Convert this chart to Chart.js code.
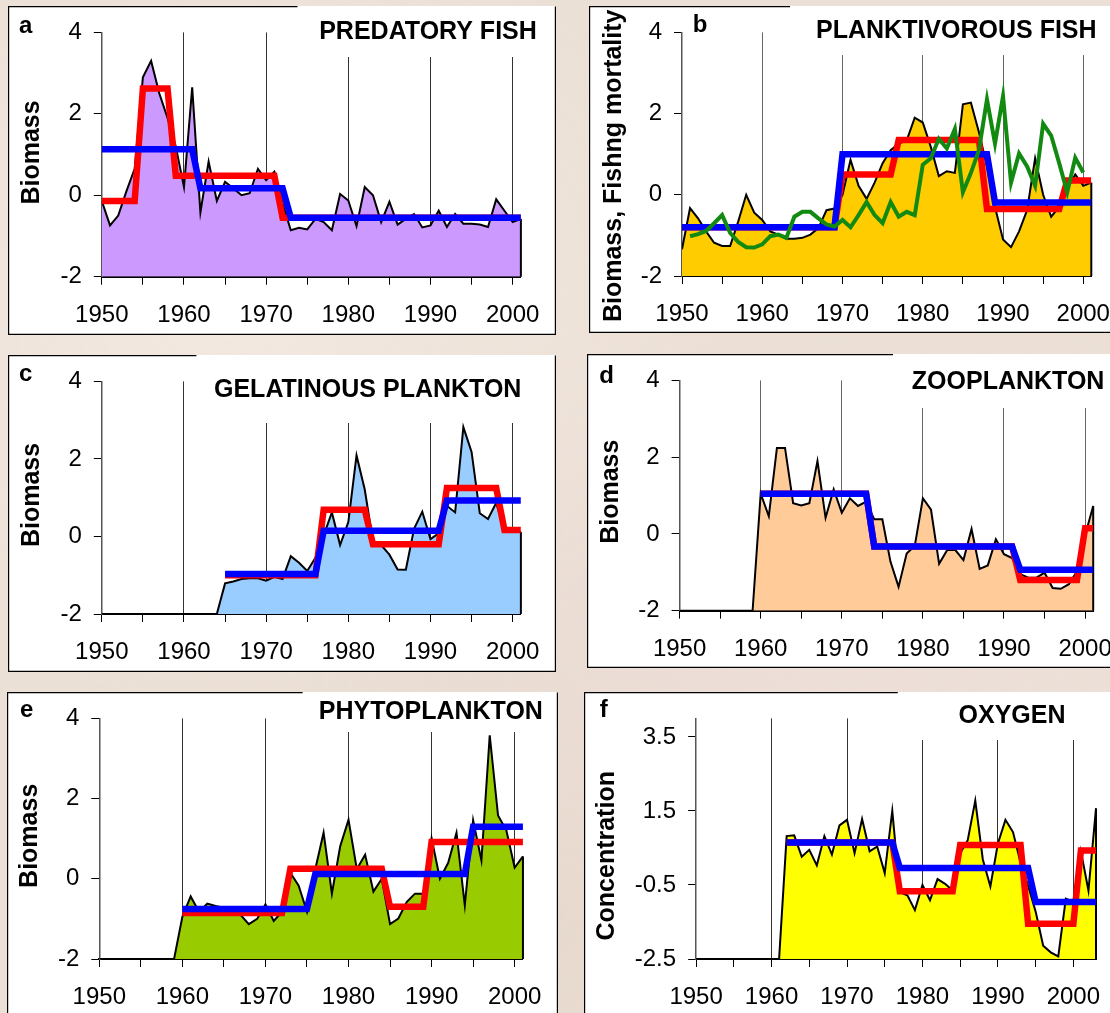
<!DOCTYPE html>
<html><head><meta charset="utf-8">
<script src="https://cdn.jsdelivr.net/npm/chart.js@4/dist/chart.umd.min.js"></script>
<style>
html,body{margin:0;padding:0;width:1110px;height:1013px;overflow:hidden;}
body{background:#ebe0d5;
background-image:
 radial-gradient(ellipse at 20% 30%, rgba(245,235,228,0.8), rgba(0,0,0,0) 40%),
 radial-gradient(ellipse at 75% 60%, rgba(238,222,218,0.7), rgba(0,0,0,0) 45%),
 radial-gradient(ellipse at 50% 90%, rgba(228,212,200,0.6), rgba(0,0,0,0) 40%);}
canvas{position:absolute;background:#fff;}
</style></head><body>
<canvas id="pa"></canvas>
<canvas id="pb"></canvas>
<canvas id="pc"></canvas>
<canvas id="pd"></canvas>
<canvas id="pe"></canvas>
<canvas id="pf"></canvas>
<script>
// ---------------- DATA ----------------
const START_YEAR = 1950;
const xTickValues = [1950,1955,1960,1965,1970,1975,1980,1985,1990,1995,2000];
const xTickLabels = ['1950','1960','1970','1980','1990','2000'];
const gridYears = [1960,1970,1980,1990,2000];
const yTicksBiomass = [-2,0,2,4];
const yTicksOxygen = [-2.5,-0.5,1.5,3.5];

// a: predatory fish (1950-2001)
const predatoryBiomass = [-0.14,-0.74,-0.5,0.1,0.65,2.9,3.3,2.5,1.9,1.2,0.2,2.65,-0.42,0.83,-0.14,0.33,0.17,0.0,0.05,0.65,0.37,0.58,-0.2,-0.86,-0.8,-0.84,-0.58,-0.66,-0.86,0.03,-0.13,-0.76,0.2,0.0,-0.66,-0.16,-0.72,-0.58,-0.46,-0.79,-0.74,-0.38,-0.78,-0.46,-0.7,-0.7,-0.72,-0.78,-0.1,-0.38,-0.66,-0.58];
const predatoryRed = [-0.14,-0.14,-0.14,-0.14,-0.14,2.62,2.62,2.62,2.62,0.48,0.48,0.48,0.48,0.48,0.48,0.48,0.48,0.48,0.48,0.48,0.48,0.48,-0.55,-0.55,-0.55,-0.55,-0.55,-0.55,-0.55,-0.55,-0.55,-0.55,-0.55,-0.55,-0.55,-0.55,-0.55,-0.55,-0.55,-0.55,-0.55,-0.55,-0.55,-0.55,-0.55,-0.55,-0.55,-0.55,-0.55,-0.55,-0.55,-0.55];
const predatoryBlue = [1.13,1.13,1.13,1.13,1.13,1.13,1.13,1.13,1.13,1.13,1.13,1.13,0.17,0.17,0.17,0.17,0.17,0.17,0.17,0.17,0.17,0.17,0.17,-0.55,-0.55,-0.55,-0.55,-0.55,-0.55,-0.55,-0.55,-0.55,-0.55,-0.55,-0.55,-0.55,-0.55,-0.55,-0.55,-0.55,-0.55,-0.55,-0.55,-0.55,-0.55,-0.55,-0.55,-0.55,-0.55,-0.55,-0.55,-0.55];

// b: planktivorous fish (1950-2001)
const planktivBiomass = [-1.34,-0.33,-0.58,-0.9,-1.18,-1.26,-1.26,-0.66,0.0,-0.44,-0.62,-0.9,-0.98,-1.08,-1.08,-1.06,-0.98,-0.82,-0.38,-0.34,0.0,0.86,0.22,-0.1,0.3,0.78,1.1,1.26,1.34,1.9,1.78,1.18,0.46,0.58,0.54,2.23,2.27,1.54,0.7,-0.3,-1.1,-1.29,-0.9,-0.38,0.9,0.0,-0.54,-0.3,0.14,0.5,0.22,0.3];
const planktivFishing = [null,-1.02,-0.97,-0.89,-0.7,-0.5,-0.94,-1.16,-1.29,-1.3,-1.22,-1.02,-0.98,-1.06,-0.54,-0.42,-0.42,-0.58,-0.73,-0.78,-0.62,-0.8,-0.5,-0.18,-0.5,-0.7,-0.18,-0.54,-0.42,-0.5,0.74,0.9,1.38,1.14,1.62,0.06,0.54,1.1,2.35,1.26,2.43,0.3,1.02,0.7,0.22,1.75,1.46,0.78,0.06,0.91,0.55,null];
const planktivRed = [-0.8,-0.8,-0.8,-0.8,-0.8,-0.8,-0.8,-0.8,-0.8,-0.8,-0.8,-0.8,-0.8,-0.8,-0.8,-0.8,-0.8,-0.8,-0.8,-0.8,0.5,0.5,0.5,0.5,0.5,0.5,0.5,1.35,1.35,1.35,1.35,1.35,1.35,1.35,1.35,1.35,1.35,1.35,-0.35,-0.35,-0.35,-0.35,-0.35,-0.35,-0.35,-0.35,-0.35,-0.35,0.35,0.35,0.35,0.35];
const planktivBlue = [-0.8,-0.8,-0.8,-0.8,-0.8,-0.8,-0.8,-0.8,-0.8,-0.8,-0.8,-0.8,-0.8,-0.8,-0.8,-0.8,-0.8,-0.8,-0.8,-0.8,1.0,1.0,1.0,1.0,1.0,1.0,1.0,1.0,1.0,1.0,1.0,1.0,1.0,1.0,1.0,1.0,1.0,1.0,1.0,-0.19,-0.19,-0.19,-0.19,-0.19,-0.19,-0.19,-0.19,-0.19,-0.19,-0.19,-0.19,-0.19];

// c: gelatinous plankton (1950-2001)
const gelatinousBiomass = [-2,-2,-2,-2,-2,-2,-2,-2,-2,-2,-2,-2,-2,-2,-2,-1.21,-1.16,-1.1,-1.08,-1.08,-1.14,-1.04,-1.1,-0.51,-0.68,-0.89,-0.55,0.03,0.62,-0.22,0.37,2.09,1.21,-0.13,-0.22,-0.47,-0.85,-0.86,0.2,0.64,-0.07,0.08,0.79,0.62,2.82,2.18,0.6,0.45,0.87,0.12,0.12,0.12];
const gelatinousRed = [null,null,null,null,null,null,null,null,null,null,null,null,null,null,null,-1.0,-1.0,-1.0,-1.0,-1.0,-1.0,-1.0,-1.0,-1.0,-1.0,-1.0,-1.0,0.69,0.69,0.69,0.69,0.69,0.69,-0.2,-0.2,-0.2,-0.2,-0.2,-0.2,-0.2,-0.2,-0.2,1.25,1.25,1.25,1.25,1.25,1.25,1.25,0.17,0.17,0.17];
const gelatinousBlue = [null,null,null,null,null,null,null,null,null,null,null,null,null,null,null,-0.97,-0.97,-0.97,-0.97,-0.97,-0.97,-0.97,-0.97,-0.97,-0.97,-0.97,-0.97,0.15,0.15,0.15,0.15,0.15,0.15,0.15,0.15,0.15,0.15,0.15,0.15,0.15,0.15,0.15,0.93,0.93,0.93,0.93,0.93,0.93,0.93,0.93,0.93,0.93];

// d: zooplankton (1950-2001)
const zooBiomass = [-2,-2,-2,-2,-2,-2,-2,-2,-2,-2,1.05,0.46,2.24,2.24,0.8,0.74,0.8,1.9,0.42,1.16,0.55,0.93,0.73,0.84,0.38,0.38,-0.72,-1.38,-0.51,-0.31,0.93,0.63,-0.78,-0.42,-0.42,-0.68,0.13,-0.91,-0.82,-0.14,-0.53,-0.63,-1.05,-1.14,-1.14,-1.01,-1.41,-1.43,-1.31,-0.97,-0.04,0.73];
const zooRed = [null,null,null,null,null,null,null,null,null,null,1.05,1.05,1.05,1.05,1.05,1.05,1.05,1.05,1.05,1.05,1.05,1.05,1.05,1.05,-0.33,-0.33,-0.33,-0.33,-0.33,-0.33,-0.33,-0.33,-0.33,-0.33,-0.33,-0.33,-0.33,-0.33,-0.33,-0.33,-0.33,-0.33,-1.2,-1.2,-1.2,-1.2,-1.2,-1.2,-1.2,-1.2,0.15,0.15];
const zooBlue = [null,null,null,null,null,null,null,null,null,null,1.05,1.05,1.05,1.05,1.05,1.05,1.05,1.05,1.05,1.05,1.05,1.05,1.05,1.05,-0.33,-0.33,-0.33,-0.33,-0.33,-0.33,-0.33,-0.33,-0.33,-0.33,-0.33,-0.33,-0.33,-0.33,-0.33,-0.33,-0.33,-0.33,-0.93,-0.93,-0.93,-0.93,-0.93,-0.93,-0.93,-0.93,-0.93,-0.93];

// e: phytoplankton (1950-2001)
const phytoBiomass = [-2,-2,-2,-2,-2,-2,-2,-2,-2,-2,-0.95,-0.44,-0.82,-0.62,-0.68,-0.72,-0.82,-0.9,-1.13,-1.0,-0.64,-1.05,-0.82,0.15,-0.17,-0.82,0.24,1.15,-0.37,0.81,1.47,0.24,0.6,-0.32,0.0,-1.13,-0.99,-0.58,-0.37,-0.37,1.01,0.0,0.4,1.15,-0.66,1.46,0.46,3.58,1.58,1.21,0.28,0.56];
const phytoRed = [null,null,null,null,null,null,null,null,null,null,-0.85,-0.85,-0.85,-0.85,-0.85,-0.85,-0.85,-0.85,-0.85,-0.85,-0.85,-0.85,-0.85,0.25,0.25,0.25,0.25,0.25,0.25,0.25,0.25,0.25,0.25,0.25,0.25,-0.7,-0.7,-0.7,-0.7,-0.7,0.92,0.92,0.92,0.92,0.92,0.92,0.92,0.92,0.92,0.92,0.92,0.92];
const phytoBlue = [null,null,null,null,null,null,null,null,null,null,-0.75,-0.75,-0.75,-0.75,-0.75,-0.75,-0.75,-0.75,-0.75,-0.75,-0.75,-0.75,-0.75,-0.75,-0.75,-0.75,0.12,0.12,0.12,0.12,0.12,0.12,0.12,0.12,0.12,0.12,0.12,0.12,0.12,0.12,0.12,0.12,0.12,0.12,0.12,1.3,1.3,1.3,1.3,1.3,1.3,1.3];

// f: oxygen concentration (1950-2003)
const oxygenConc = [-2.5,-2.5,-2.5,-2.5,-2.5,-2.5,-2.5,-2.5,-2.5,-2.5,-2.5,-2.5,0.82,0.84,0.26,0.45,0.03,0.82,0.32,1.11,1.26,0.36,1.28,0.41,0.54,-0.18,1.5,-0.7,-0.78,-1.18,-0.5,-0.91,-0.34,-0.47,-0.65,0.36,0.71,1.78,0.19,-0.54,0.62,1.26,0.93,0.1,-0.52,-1.22,-2.14,-2.32,-2.43,-0.87,-0.96,0.41,-0.65,1.57];
const oxygenRed = [null,null,null,null,null,null,null,null,null,null,null,null,0.65,0.65,0.65,0.65,0.65,0.65,0.65,0.65,0.65,0.65,0.65,0.65,0.65,0.65,0.65,-0.67,-0.67,-0.67,-0.67,-0.67,-0.67,-0.67,-0.67,0.58,0.58,0.58,0.58,0.58,0.58,0.58,0.58,0.58,-1.55,-1.55,-1.55,-1.55,-1.55,-1.55,-1.55,0.43,0.43,0.43];
const oxygenBlue = [null,null,null,null,null,null,null,null,null,null,null,null,0.65,0.65,0.65,0.65,0.65,0.65,0.65,0.65,0.65,0.65,0.65,0.65,0.65,0.65,0.65,-0.04,-0.04,-0.04,-0.04,-0.04,-0.04,-0.04,-0.04,-0.04,-0.04,-0.04,-0.04,-0.04,-0.04,-0.04,-0.04,-0.04,-0.04,-0.96,-0.96,-0.96,-0.96,-0.96,-0.96,-0.96,-0.96,-0.96];

// ---------------- RENDERING ----------------
const FONT = '"Liberation Sans", Arial, Helvetica, sans-serif';
Chart.defaults.font.family = FONT;
Chart.defaults.color = '#000';

const toXY = arr => arr.map((v, i) => ({x: START_YEAR + i, y: v}));

const panelDecor = {
  id: 'panelDecor',
  beforeDatasetsDraw(chart, args, o) {
    const ctx = chart.ctx, xs = chart.scales.x;
    ctx.save();
    ctx.fillStyle = '#fff';
    const cx = xs.getPixelForValue(o.coverFrom);
    ctx.fillRect(cx, 1, chart.width - cx, o.coverBottom - 1);
    ctx.fillStyle = '#000';
    ctx.textBaseline = 'alphabetic';
    ctx.font = 'bold 25px ' + FONT;
    ctx.textAlign = o.titleAlign;
    ctx.fillText(o.title, o.titleX, o.titleY);
    ctx.font = 'bold 24px ' + FONT;
    ctx.textAlign = 'center';
    ctx.fillText(o.letter, o.letterX, o.letterY);
    ctx.translate(o.axisX, o.axisY);
    ctx.rotate(-Math.PI / 2);
    ctx.font = 'bold 25px ' + FONT;
    ctx.textBaseline = 'middle';
    ctx.fillText(o.axisTitle, 0, 0);
    ctx.restore();
  },
  afterDatasetDraw(chart, args, o) {
    if (args.index !== 0) return;
    const pts = chart.getDatasetMeta(0).data;
    const last = pts[pts.length - 1];
    const ctx = chart.ctx;
    ctx.save();
    ctx.strokeStyle = '#000'; ctx.lineWidth = 2;
    ctx.beginPath(); ctx.moveTo(last.x, last.y); ctx.lineTo(last.x, chart.chartArea.bottom); ctx.stroke();
    ctx.restore();
  },
  afterDraw(chart, args, o) {
    const ctx = chart.ctx, w = chart.width, h = chart.height;
    ctx.save();
    ctx.strokeStyle = '#000'; ctx.lineWidth = 1.2;
    ctx.beginPath();
    ctx.moveTo(o.borderTopUntil, 0.6); ctx.lineTo(0.6, 0.6); ctx.lineTo(0.6, h - 0.6);
    ctx.lineTo(w - 0.6, h - 0.6); ctx.lineTo(w - 0.6, 0.6);
    ctx.stroke();
    ctx.restore();
  }
};

function makePanel(p) {
  const cv = document.getElementById(p.id);
  cv.width = p.box[2]; cv.height = p.box[3];
  cv.style.left = p.box[0] + 'px'; cv.style.top = p.box[1] + 'px';
  cv.style.width = p.box[2] + 'px'; cv.style.height = p.box[3] + 'px';
  const [aL, aR, aT, aB] = p.area;
  const datasets = [
    {data: toXY(p.area_values), borderColor: '#000', borderWidth: 2, backgroundColor: p.fill, fill: 'start', order: 4},
    {data: toXY(p.red), borderColor: '#ff0000', borderWidth: 6.5, fill: false, order: 3},
    {data: toXY(p.blue), borderColor: '#0000ff', borderWidth: 6.5, fill: false, order: 2}
  ];
  if (p.green) datasets.push({data: toXY(p.green), borderColor: '#128a12', borderWidth: 4, fill: false, order: 1});
  new Chart(cv, {
    type: 'line',
    data: {datasets},
    plugins: [panelDecor],
    options: {
      responsive: false, animation: false, events: [],
      layout: {padding: {top: aT, right: p.box[2] - aR, left: 0, bottom: 0}},
      elements: {point: {radius: 0}, line: {tension: 0}},
      plugins: {legend: {display: false}, tooltip: {enabled: false}, panelDecor: p.decor},
      scales: {
        x: {
          type: 'linear', min: START_YEAR, max: p.xMax,
          afterBuildTicks: s => { s.ticks = xTickValues.map(v => ({value: v})); },
          afterFit: s => { s.height = p.box[3] - aB; },
          ticks: {font: {size: 24}, color: '#000', padding: 16, maxRotation: 0, autoSkip: false,
                  callback: v => xTickLabels.includes(String(v)) ? String(v) : ''},
          grid: {color: c => (c.tick && gridYears.includes(c.tick.value)) ? p.gridColor : 'rgba(0,0,0,0)',
                 tickColor: '#000', tickLength: 8, lineWidth: 1},
          border: {display: true, color: '#000', width: 2}
        },
        y: {
          min: p.yMin, max: p.yMax,
          afterBuildTicks: s => { s.ticks = p.yTicks.map(v => ({value: v})); },
          afterFit: s => { s.width = aL; },
          ticks: {font: {size: 24}, color: '#000', padding: 12, callback: v => String(v)},
          grid: {drawOnChartArea: false, color: '#000', tickColor: '#000', tickLength: 8},
          border: {display: true, color: '#555', width: 1.5}
        }
      }
    }
  });
}

const panels = [
  {id: 'pa', box: [8, 6, 548, 329], area: [93.8, 515.3, 20, 270.7], xMax: 2001, yMin: -2, yMax: 4, yTicks: yTicksBiomass,
   area_values: predatoryBiomass, red: predatoryRed, blue: predatoryBlue, fill: '#cc99ff', gridColor: '#333',
   decor: {letter: 'a', letterX: 17.7, letterY: 27.3, title: 'PREDATORY FISH', titleAlign: 'right', titleX: 528.8, titleY: 33.3,
           axisTitle: 'Biomass', axisX: 24, axisY: 146.5, coverFrom: 1975, coverBottom: 51, borderTopUntil: 289.5}},
  {id: 'pb', box: [589, 6, 560, 327], area: [93, 502.3, 20, 270], xMax: 2001, yMin: -2, yMax: 4, yTicks: yTicksBiomass,
   area_values: planktivBiomass, red: planktivRed, blue: planktivBlue, green: planktivFishing, fill: '#ffcc00', gridColor: '#666',
   decor: {letter: 'b', letterX: 111, letterY: 25.7, title: 'PLANKTIVOROUS FISH', titleAlign: 'right', titleX: 507.6, titleY: 32.3,
           axisTitle: 'Biomass, Fishng mortality', axisX: 25.4, axisY: 159.8, coverFrom: 1965, coverBottom: 49, borderTopUntil: 201}},
  {id: 'pc', box: [8, 355, 548, 317], area: [93.8, 515.3, 21, 259], xMax: 2001, yMin: -2, yMax: 4, yTicks: yTicksBiomass,
   area_values: gelatinousBiomass, red: gelatinousRed, blue: gelatinousBlue, fill: '#99ccff', gridColor: '#333',
   decor: {letter: 'c', letterX: 17.7, letterY: 25.7, title: 'GELATINOUS PLANKTON', titleAlign: 'right', titleX: 513.4, titleY: 41.7,
           axisTitle: 'Biomass', axisX: 24, axisY: 140, coverFrom: 1965, coverBottom: 68, borderTopUntil: 188.4}},
  {id: 'pd', box: [587, 354, 560, 314], area: [92.6, 506.2, 19.3, 256.7], xMax: 2001, yMin: -2, yMax: 4, yTicks: yTicksBiomass,
   area_values: zooBiomass, red: zooRed, blue: zooBlue, fill: '#ffcc99', gridColor: '#666',
   decor: {letter: 'd', letterX: 19.6, letterY: 28.7, title: 'ZOOPLANKTON', titleAlign: 'left', titleX: 324.8, titleY: 35.3,
           axisTitle: 'Biomass', axisX: 23.9, axisY: 137.7, coverFrom: 1975, coverBottom: 54, borderTopUntil: 306}},
  {id: 'pe', box: [7, 692, 551, 340], area: [92.3, 517.6, 20.7, 267], xMax: 2001, yMin: -2, yMax: 4, yTicks: yTicksBiomass,
   area_values: phytoBiomass, red: phytoRed, blue: phytoBlue, fill: '#99cc00', gridColor: '#333',
   decor: {letter: 'e', letterX: 19.7, letterY: 25.3, title: 'PHYTOPLANKTON', titleAlign: 'right', titleX: 535.9, titleY: 27.3,
           axisTitle: 'Biomass', axisX: 23.4, axisY: 143.8, coverFrom: 1975, coverBottom: 40, borderTopUntil: 295.6}},
  {id: 'pf', box: [584, 692, 560, 340], area: [112.1, 512, 20.7, 267], xMax: 2003, yMin: -2.5, yMax: 4, yTicks: yTicksOxygen,
   area_values: oxygenConc, red: oxygenRed, blue: oxygenBlue, fill: '#ffff00', gridColor: '#333',
   decor: {letter: 'f', letterX: 19.8, letterY: 25.3, title: 'OXYGEN', titleAlign: 'center', titleX: 428, titleY: 31.3,
           axisTitle: 'Concentration', axisX: 23.4, axisY: 163.8, coverFrom: 1975, coverBottom: 48, borderTopUntil: 313.8}}
];
panels.forEach(makePanel);
</script>
</body></html>
